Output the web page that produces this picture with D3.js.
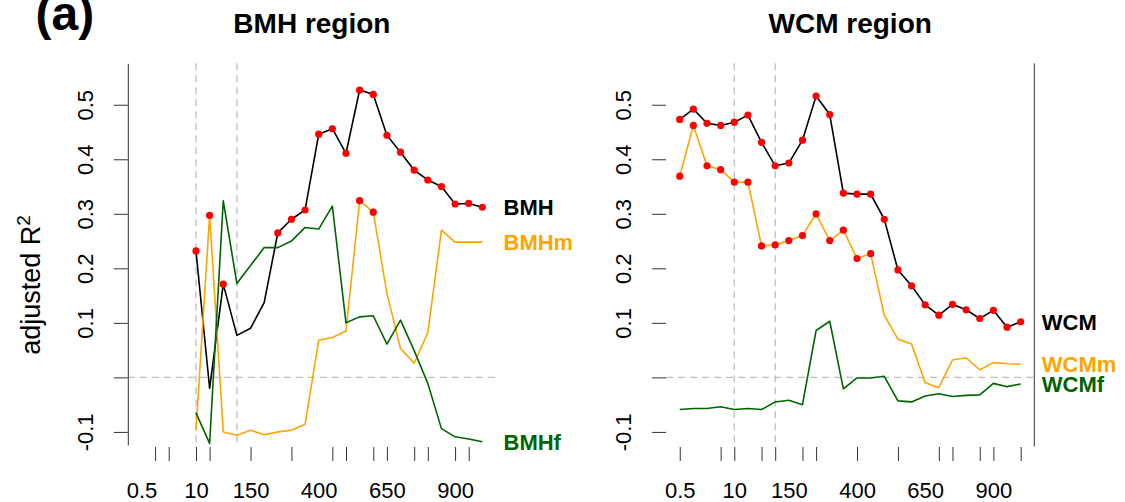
<!DOCTYPE html>
<html>
<head>
<meta charset="utf-8">
<script src="https://cdn.jsdelivr.net/npm/d3@7"></script>
<style>
  html, body { margin: 0; padding: 0; background: #fff; }
  svg { display: block; font-family: "Liberation Sans", Arial, Helvetica, sans-serif; }
</style>
</head>
<body>
<svg id="chart" width="1125" height="502"></svg>
<script>
// Resolution classes along the x axis (shared by both panels)
const categories = ["0.5","1","2.5","5","10","25","50","100","150","200","250","300","350",
  "400","450","500","550","600","650","700","750","800","850","900","950","1000"];
const xLabelCats = ["0.5","10","150","400","650","900"];
const bmhTickCats = ["1","2.5","10","25","150","300","450","500","600","650","750","800","900","950"];
const wcmTickCats = ["0.5","5","10","50","100","200","250","400","550","700","750","850","900","1000"];
const refLineCats = ["10","100"];

const yTicks = [-0.1, 0, 0.1, 0.2, 0.3, 0.4, 0.5];
const yTickLabels = ["-0.1", "", "0.1", "0.2", "0.3", "0.4", "0.5"];

// BMH region: series start at "10"
const bmhCats = categories.slice(4);
const bmh  = [0.232,-0.020,0.171,0.077,0.090,0.137,0.265,0.290,0.307,0.446,0.456,
              0.411,0.527,0.519,0.444,0.413,0.380,0.362,0.350,0.318,0.319,0.312];
const bmhm = [-0.097,0.297,-0.100,-0.106,-0.097,-0.105,-0.100,-0.097,-0.086,0.068,0.073,
              0.085,0.324,0.303,0.154,0.053,0.026,0.082,0.270,0.248,0.248,0.248];
const bmhf = [-0.065,-0.121,0.324,0.172,0.205,0.238,0.238,0.250,0.275,0.272,0.314,
              0.100,0.111,0.113,0.061,0.105,0.049,-0.011,-0.094,-0.109,-0.113,-0.118];
const bmhSig  = [1,0,1,0,0,0,1,1,1,1,1,1,1,1,1,1,1,1,1,1,1,1];
const bmhmSig = [0,1,0,0,0,0,0,0,0,0,0,0,1,1,0,0,0,0,0,0,0,0];
const bmhfSig = bmhf.map(() => 0);

// WCM region: series cover every class
const wcmCats = categories;
const wcm  = [0.473,0.492,0.466,0.462,0.468,0.481,0.431,0.388,0.393,0.435,0.516,0.482,0.338,
              0.336,0.336,0.290,0.197,0.168,0.133,0.114,0.134,0.124,0.108,0.123,0.092,0.102];
const wcmm = [0.369,0.462,0.388,0.381,0.358,0.358,0.241,0.243,0.251,0.260,0.300,0.251,0.270,
              0.218,0.227,0.114,0.070,0.061,-0.010,-0.019,0.032,0.036,0.014,0.027,0.025,0.024];
const wcmf = [-0.059,-0.057,-0.057,-0.054,-0.059,-0.057,-0.059,-0.045,-0.042,-0.050,0.086,0.103,-0.021,
              -0.001,-0.001,0.002,-0.043,-0.045,-0.034,-0.030,-0.035,-0.033,-0.032,-0.011,-0.017,-0.012];
const wcmSig  = wcm.map(() => 1);
const wcmmSig = [1,1,1,1,1,1,1,1,1,1,1,1,1,1,1,0,0,0,0,0,0,0,0,0,0,0];
const wcmfSig = wcmf.map(() => 0);

const COL = { all: "#000000", m: "#FFA500", f: "#006400", sig: "#FF0000", ref: "#BEBEBE", axis: "#333333" };

const svg = d3.select("#chart");
svg.append("rect").attr("width", 1125).attr("height", 502).attr("fill", "#fff");

const plotTop = 63.3, plotBottom = 445;
const y = d3.scaleLinear().domain([-0.124, 0.576]).range([plotBottom, plotTop]);

function drawPanel(p) {
  const x = d3.scalePoint().domain(categories).range([p.x0, p.x1]).padding(1);
  const g = svg.append("g");

  // title
  g.append("text")
    .attr("x", (p.x0 + p.x1) / 2).attr("y", 32.5)
    .attr("text-anchor", "middle")
    .attr("font-size", 28).attr("font-weight", "bold")
    .text(p.title);

  // dashed reference lines
  g.append("line")
    .attr("x1", p.x0).attr("x2", p.x1)
    .attr("y1", y(0)).attr("y2", y(0))
    .attr("stroke", COL.ref).attr("stroke-width", 1.3).attr("stroke-dasharray", "7,5");
  refLineCats.forEach(c => {
    g.append("line")
      .attr("x1", x(c)).attr("x2", x(c))
      .attr("y1", plotTop).attr("y2", plotBottom)
      .attr("stroke", COL.ref).attr("stroke-width", 1.3).attr("stroke-dasharray", "7,5");
  });

  // y axis
  const yAxis = d3.axisLeft(y)
    .tickValues(yTicks)
    .tickSize(14).tickSizeOuter(0)
    .tickFormat((d, i) => yTickLabels[i]);
  const ya = g.append("g").attr("transform", `translate(${p.x0},0)`).call(yAxis);
  ya.selectAll(".tick line").attr("stroke", COL.axis).attr("stroke-width", 1);
  if (p.leftLine) ya.select(".domain").attr("stroke", COL.axis).attr("stroke-width", 1);
  else ya.select(".domain").remove();
  ya.selectAll(".tick text")
    .attr("x", null).attr("dy", null)
    .attr("transform", "translate(-35,0) rotate(-90)")
    .attr("text-anchor", "middle")
    .attr("font-size", 22).attr("fill", "#000")
    .attr("font-family", null);
  ya.attr("font-family", null).attr("font-size", null);

  if (p.rightLine) {
    g.append("line")
      .attr("x1", p.x1).attr("x2", p.x1)
      .attr("y1", plotTop).attr("y2", plotBottom + 1.5)
      .attr("stroke", COL.axis).attr("stroke-width", 1);
  }

  // x axis tick marks
  const xTickAxis = d3.axisBottom(x).tickValues(p.tickCats).tickSize(14).tickFormat("");
  const xt = g.append("g").attr("transform", `translate(0,${plotBottom + 2})`).call(xTickAxis);
  xt.select(".domain").remove();
  xt.selectAll(".tick line").attr("stroke", COL.axis).attr("stroke-width", 1);

  // x axis labels
  const xLabAxis = d3.axisBottom(x).tickValues(xLabelCats).tickSize(0);
  const xl = g.append("g").attr("transform", `translate(0,${plotBottom})`).call(xLabAxis);
  xl.select(".domain").remove();
  xl.attr("font-family", null).attr("font-size", null);
  xl.selectAll(".tick text")
    .attr("y", 52.5).attr("dy", null)
    .attr("font-size", 22).attr("fill", "#000");

  // series
  const line = d3.line().x(d => x(d.c)).y(d => y(d.v));
  p.series.forEach(s => {
    const pts = s.values.map((v, i) => ({ c: p.cats[i], v, sig: s.sig[i] }));
    g.append("path").datum(pts)
      .attr("d", line)
      .attr("fill", "none").attr("stroke", s.color)
      .attr("stroke-width", 1.6).attr("stroke-linejoin", "round");
    g.selectAll(null).data(pts.filter(d => d.sig)).enter().append("circle")
      .attr("cx", d => x(d.c)).attr("cy", d => y(d.v)).attr("r", 3.6)
      .attr("fill", COL.sig);
    const last = pts[pts.length - 1];
    g.append("text")
      .attr("x", p.x1 + 7.5).attr("y", y(last.v))
      .attr("dy", "0.36em")
      .attr("font-size", 22).attr("font-weight", "bold")
      .attr("fill", s.color)
      .text(s.name);
  });
}

drawPanel({
  title: "BMH region", x0: 127.8, x1: 496, leftLine: true, rightLine: false,
  tickCats: bmhTickCats, cats: bmhCats,
  series: [
    { name: "BMH",  values: bmh,  sig: bmhSig,  color: COL.all },
    { name: "BMHm", values: bmhm, sig: bmhmSig, color: COL.m },
    { name: "BMHf", values: bmhf, sig: bmhfSig, color: COL.f }
  ]
});

drawPanel({
  title: "WCM region", x0: 666.1, x1: 1034.3, leftLine: false, rightLine: true,
  tickCats: wcmTickCats, cats: wcmCats,
  series: [
    { name: "WCM",  values: wcm,  sig: wcmSig,  color: COL.all },
    { name: "WCMm", values: wcmm, sig: wcmmSig, color: COL.m },
    { name: "WCMf", values: wcmf, sig: wcmfSig, color: COL.f }
  ]
});

// panel tag
svg.append("text")
  .attr("x", 35.5).attr("y", 30)
  .attr("font-size", 48).attr("font-weight", "bold")
  .text("(a)");

// y axis title
const yTitle = svg.append("text")
  .attr("transform", "translate(40,285) rotate(-90)")
  .attr("text-anchor", "middle")
  .attr("font-size", 27);
yTitle.append("tspan").text("adjusted R");
yTitle.append("tspan").attr("font-size", 19).attr("dy", "-0.55em").text("2");
</script>
</body>
</html>
